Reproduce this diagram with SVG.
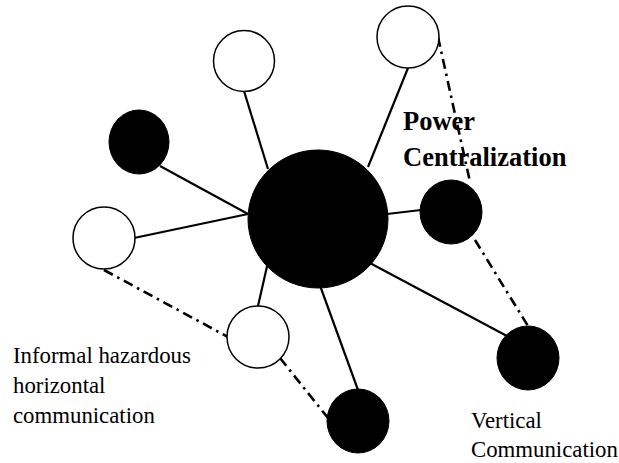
<svg xmlns="http://www.w3.org/2000/svg" width="619" height="463" viewBox="0 0 619 463">
<style>
.w{fill:#fff;stroke:#000;stroke-width:1.5}
.b{fill:#000;stroke:#000;stroke-width:1}
.s{stroke:#000;stroke-width:2.2;fill:none}
.d{stroke:#000;stroke-width:2.6;fill:none;stroke-dasharray:10 5 2.5 5}
.t{font-family:"Liberation Serif",serif;font-size:22.8px;fill:#000}
.tb{font-family:"Liberation Serif",serif;font-size:26.5px;font-weight:bold;fill:#000}
</style>
<rect width="619" height="463" fill="#fff"/>
<g id="connectors">
<line class="s" x1="244" y1="91" x2="268" y2="169"/>
<line class="s" x1="160" y1="166" x2="248" y2="214"/>
<line class="s" x1="134" y1="238" x2="248" y2="214"/>
<line class="s" x1="408" y1="68" x2="368" y2="167"/>
<line class="s" x1="387" y1="214" x2="421" y2="210"/>
<line class="s" x1="368" y1="262" x2="507" y2="336"/>
<line class="s" x1="318" y1="280" x2="358" y2="390"/>
<line class="s" x1="268" y1="262" x2="258" y2="306"/>
<line class="d" x1="438" y1="37" x2="470" y2="182"/>
<line class="d" x1="475" y1="240" x2="528" y2="326"/>
<line class="d" x1="104" y1="270" x2="228" y2="337"/>
<line class="d" x1="280" y1="358" x2="328" y2="418"/>
</g>
<g id="center"><ellipse class="b" cx="318" cy="219" rx="70" ry="69"/></g>
<g id="n-top"><circle class="w" cx="244" cy="61" r="30.5"/></g>
<g id="n-topright"><circle class="w" cx="408" cy="37" r="31"/></g>
<g id="n-leftblack"><ellipse class="b" cx="139" cy="142" rx="30" ry="32"/></g>
<g id="n-left"><circle class="w" cx="104" cy="238" r="31"/></g>
<g id="n-rightblack"><ellipse class="b" cx="451" cy="212" rx="31" ry="32"/></g>
<g id="n-lowercenter"><circle class="w" cx="258" cy="337" r="31"/></g>
<g id="n-bottom"><ellipse class="b" cx="358" cy="421" rx="31" ry="32"/></g>
<g id="n-rightbottom"><ellipse class="b" cx="528" cy="358" rx="31" ry="32"/></g>
<g id="labels">
<text class="tb" x="403" y="130">Power</text>
<text class="tb" x="403" y="166">Centralization</text>
<text class="t" x="13" y="363">Informal hazardous</text>
<text class="t" x="13" y="393">horizontal</text>
<text class="t" x="13" y="423">communication</text>
<text class="t" x="471" y="428">Vertical</text>
<text class="t" x="471" y="457">Communication</text>
</g>
</svg>
